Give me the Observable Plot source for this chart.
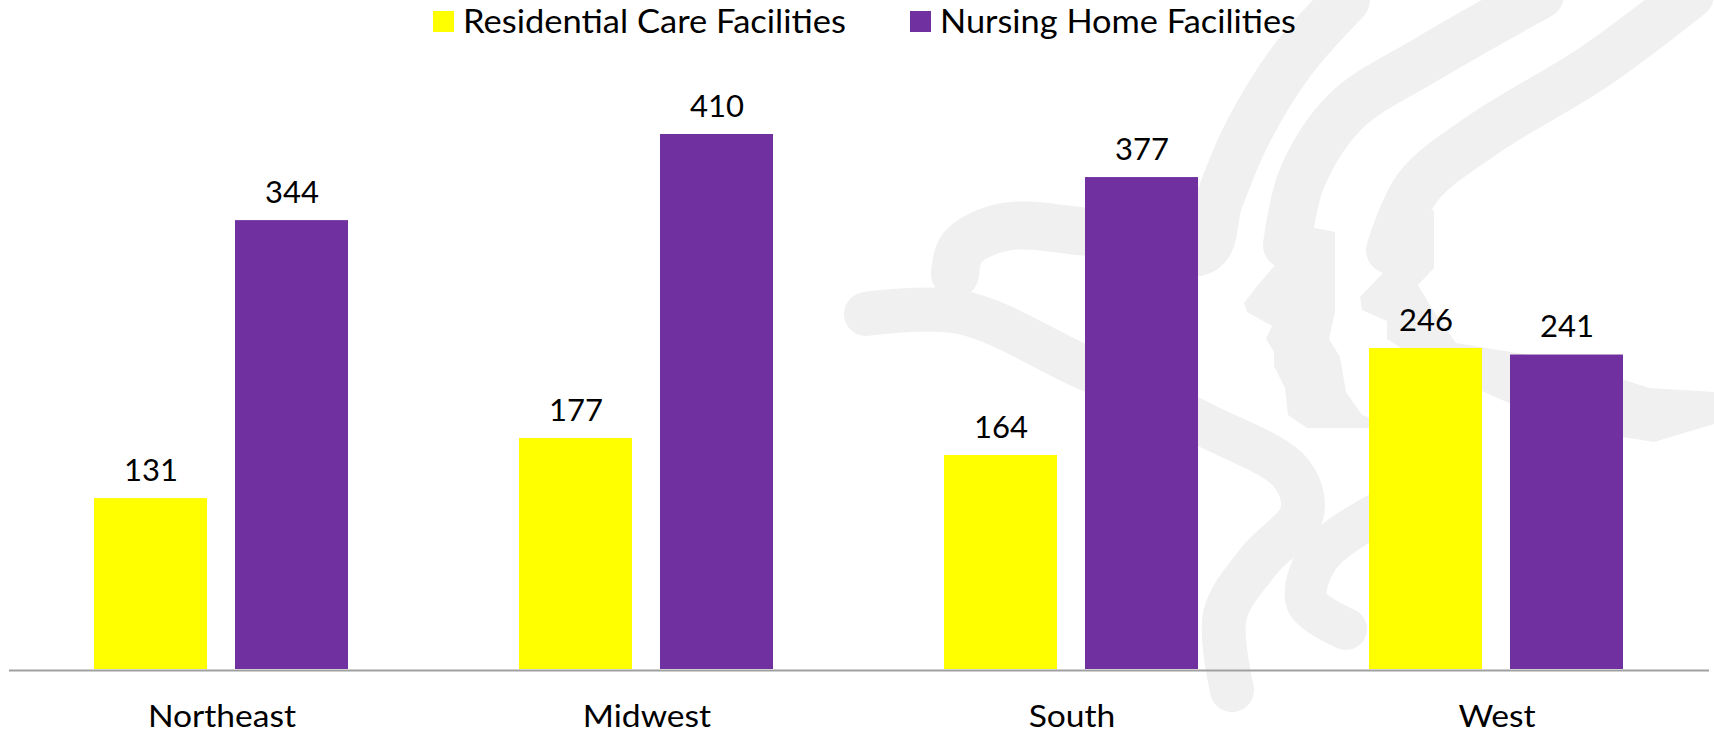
<!DOCTYPE html>
<html><head><meta charset="utf-8">
<script src="https://cdn.jsdelivr.net/npm/d3@7"></script>
<script src="https://cdn.jsdelivr.net/npm/@observablehq/plot@0.6"></script>
<style>
body{margin:0;background:#fff;font-family:Lato,sans-serif;width:1714px;height:733px;overflow:hidden;position:relative}
#watermark{position:absolute;left:0;top:0}
#legend{display:block;position:relative}
#chart{position:relative}
</style></head><body>
<svg id="watermark" width="1714" height="733"></svg>
<svg id="legend" width="1714" height="44"></svg>
<div id="chart"></div>
<script>
const regions = ["Northeast", "Midwest", "South", "West"];
const seriesNames = ["Residential Care Facilities", "Nursing Home Facilities"];
const residential = [131, 177, 164, 246];
const nursing = [344, 410, 377, 241];
const colors = ["#FFFF00", "#7030A0"];

const data = regions.flatMap((r, i) => [
  {region: r, series: seriesNames[0], value: residential[i]},
  {region: r, series: seriesNames[1], value: nursing[i]}
]);

// Faint background logo (decoration, not data)
const wm = d3.select("#watermark");
const wmFill = "#f0f0f0";
const smooth = d3.line().curve(d3.curveCatmullRom);
const strokes = [
  {w: 48, pts: [[1346,0],[1291,62],[1247,134],[1219,201],[1203,250],[1087,232],[1004,227],[962,248],[955,274]]},
  {w: 44, pts: [[866,314],[960,312],[1081,366],[1203,424],[1291,473],[1302,513],[1258,562],[1225,615],[1232,690]]},
  {w: 48, pts: [[1540,-5],[1429,58],[1346,111],[1302,178],[1287,245]]},
  {w: 48, pts: [[1690,-5],[1594,67],[1484,134],[1418,187],[1390,250]]},
  {w: 42, pts: [[1456,482],[1379,513],[1318,558],[1307,602],[1346,629]]}
];
strokes.forEach(s => wm.append("path").attr("d", smooth(s.pts)).attr("fill", "none")
  .attr("stroke", wmFill).attr("stroke-width", s.w).attr("stroke-linecap", "round").attr("stroke-linejoin", "round"));
const faces = [
  [[1291,223],[1335,232],[1335,312],[1329,339],[1340,357],[1346,392],[1362,415],[1401,428],[1307,428],[1288,415],[1285,388],[1274,366],[1274,352],[1266,339],[1272,326],[1247,312],[1244,303],[1258,285],[1277,263],[1280,241]],
  [[1434,210],[1434,268],[1418,285],[1434,312],[1456,343],[1566,361],[1649,388],[1714,392],[1714,424],[1654,442],[1566,428],[1484,392],[1429,357],[1401,348],[1387,339],[1387,321],[1362,310],[1360,297],[1384,272],[1387,232]]
];
faces.forEach(f => wm.append("path").attr("d", d3.line()(f) + "Z").attr("fill", wmFill));

// Legend (above the chart)
const legendLayout = [{x: 433, w: 383}, {x: 910, w: 356}];
const lg = d3.select("#legend");
seriesNames.forEach((name, i) => {
  const L = legendLayout[i];
  lg.append("rect").attr("x", L.x).attr("y", 11).attr("width", 21).attr("height", 21).attr("fill", colors[i]);
  lg.append("text").attr("x", L.x + 30).attr("y", 33)
    .attr("font-family", "Lato, sans-serif").attr("font-size", 33).attr("fill", "#000")
    .attr("textLength", L.w).attr("lengthAdjust", "spacingAndGlyphs").text(name);
});

const chart = Plot.plot({
  width: 1714,
  height: 689,
  marginLeft: 8,
  marginRight: 5,
  marginTop: 90,
  marginBottom: 64,
  style: {fontFamily: "Lato, sans-serif", background: "transparent", color: "#000"},
  fx: {domain: regions, padding: 0, axis: "bottom", tickSize: 0, tickPadding: 36, label: null},
  x: {domain: seriesNames, paddingInner: 0.197, paddingOuter: 0.595, axis: null},
  y: {domain: [0, 410], axis: null},
  color: {domain: seriesNames, range: colors},
  marks: [
    Plot.barY(data, {fx: "region", x: "series", y: "value", fill: "series"}),
    Plot.text(data, {fx: "region", x: "series", y: "value", text: d => String(d.value),
      lineAnchor: "bottom", dy: -18, fontSize: 31, fill: "#000"}),
    Plot.ruleY([0], {stroke: "#a0a0a0", strokeWidth: 2, dy: 1})
  ]
});
document.getElementById("chart").appendChild(chart);

// category labels: size and slight horizontal stretch like the reference
d3.select(chart).selectAll("g[aria-label='fx-axis tick label'] text")
  .attr("font-size", 30)
  .each(function() {
    const len = this.getComputedTextLength();
    this.setAttribute("textLength", len * 1.12);
    this.setAttribute("lengthAdjust", "spacingAndGlyphs");
  });
</script>
</body></html>
